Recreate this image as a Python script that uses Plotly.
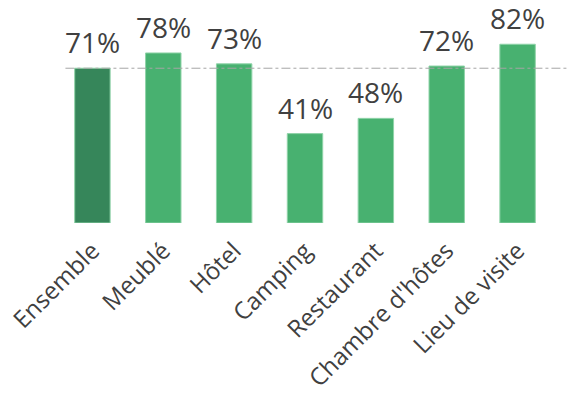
import plotly.graph_objects as go

categories = ["Ensemble", "Meublé", "Hôtel", "Camping", "Restaurant", "Chambre d'hôtes", "Lieu de visite"]
values = [71, 78, 73, 41, 48, 72, 82]
reference_value = 71
dark_green = "#36865A"
light_green = "#48B170"

colors = [dark_green] + [light_green] * (len(categories) - 1)

fig = go.Figure()
fig.add_trace(go.Bar(
    x=categories, y=values,
    marker=dict(color=colors, line=dict(color="#8fd3a8", width=1)),
    width=0.5,
    hoverinfo="skip",
))

for c, v in zip(categories, values):
    fig.add_annotation(x=c, y=v, text=f"{v}%", showarrow=False, yanchor="bottom",
                       yshift=6, borderpad=0,
                       font=dict(size=28, color="#404040", family="Open Sans"))

fig.add_shape(type="line", xref="paper", yref="y", x0=0.017, x1=1.04, y0=reference_value, y1=reference_value,
              line=dict(color="#A6A6A6", width=1, dash="dashdot"))

fig.update_layout(
    width=569, height=407,
    margin=dict(l=57, r=16, t=5, b=184, autoexpand=False),
    plot_bgcolor="white", paper_bgcolor="white",
    showlegend=False,
    font=dict(family="Open Sans", color="#404040"),
    xaxis=dict(tickangle=-45, tickfont=dict(size=24, color="#404040"), showline=False, ticks="",
               automargin=False, ticklabelstandoff=8),
    yaxis=dict(range=[0, 100], visible=False, automargin=False),
)
fig.write_html("out.html", config={"displayModeBar": False},
               post_script="document.body.style.margin='0';document.body.style.padding='0';")
